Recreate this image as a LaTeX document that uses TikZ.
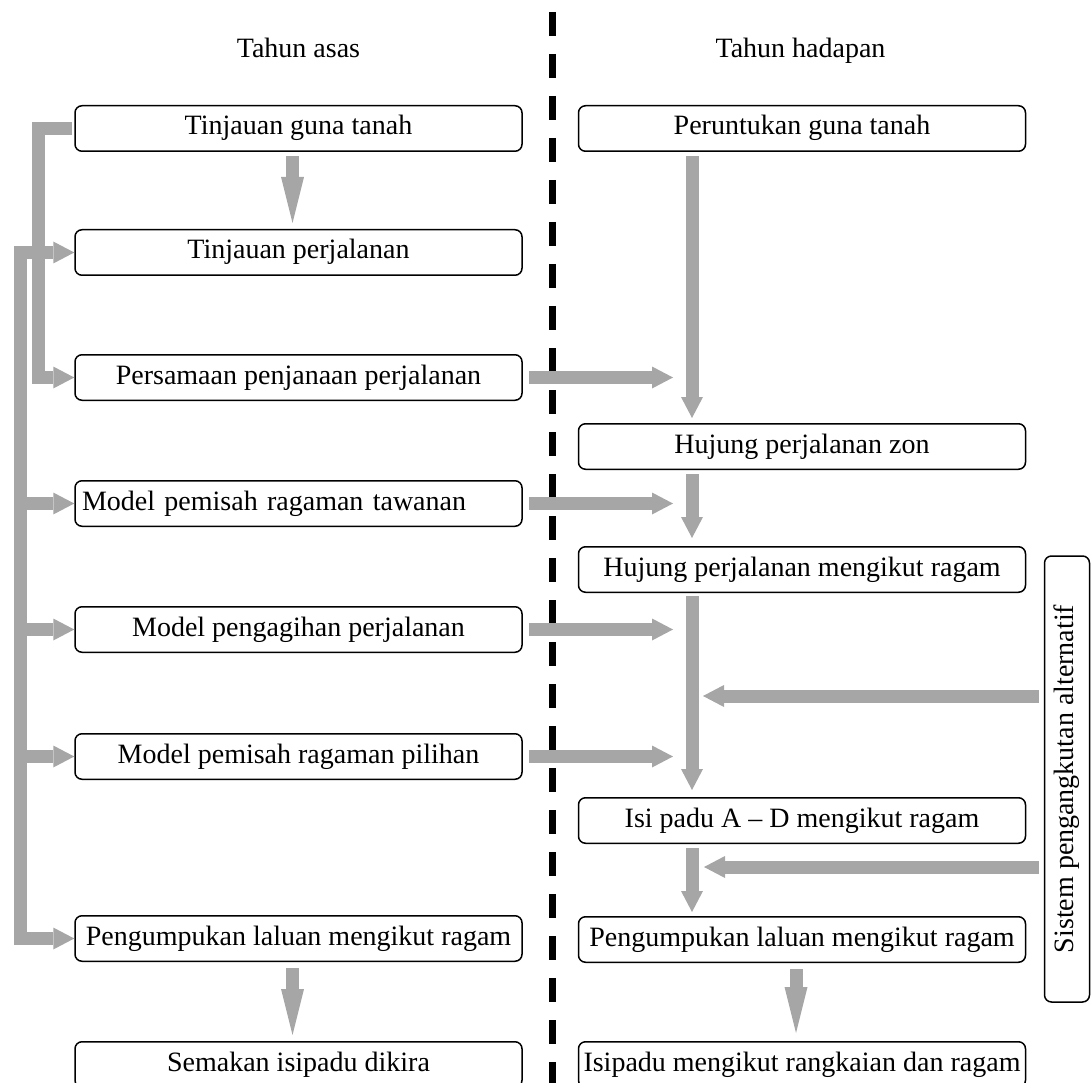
\documentclass[tikz,border=0pt]{standalone}
\usepackage{fontspec}
\setmainfont{Liberation Serif}
\usepackage{tikz}
\usetikzlibrary{arrows.meta,positioning,calc}
\usepackage{xcolor}
\definecolor{flowgray}{HTML}{A6A6A6}

\begin{document}
\begin{tikzpicture}[
  x=1pt, y=1pt,
  font=\fontsize{28}{34}\selectfont,
  node distance=78pt,
  Flow/.tip={Triangle[length=21pt,width=22pt,line width=0pt]},
  LongFlow/.tip={Triangle[length=46pt,width=23pt,line width=0pt]},
  stagebox/.style={
    draw=black,
    rounded corners=7pt,
    line width=1.5pt,
    minimum width=447pt,
    minimum height=45.5pt,
    inner xsep=3pt,
    inner ysep=0pt,
    text height=19pt,
    text depth=6pt
  },
  flow/.style={
    draw=flowgray,
    line width=13pt,
    line join=miter,
    -{Flow}
  },
  longflow/.style={
    flow,
    -{LongFlow}
  },
  header/.style={inner sep=0pt, anchor=base}
]

  \useasboundingbox (0,0) rectangle (1092,-1083);

  % Column headers
  \node[header] (hbase) at (298.5,-58) {Tahun asas};
  \node[header] (hfuture) at (800.5,-58) {Tahun hadapan};

  % Divider between base year and future year
  \draw[black, line width=7pt, dash pattern=on 24pt off 18pt] (552.5,-12) -- (552.5,-1083);

  % --- LEFT COLUMN: base year ---
  \node[stagebox] (l1) at (298.5,-128.5) {Tinjauan guna tanah};
  \node[stagebox, below=77pt of l1] (l2) {Tinjauan perjalanan};
  \node[stagebox, below=78pt of l2] (l3) {Persamaan penjanaan perjalanan};
  \node[stagebox, below=79pt of l3, text width=433pt] (l4) {Model pemisah ragaman tawanan};
  \node[stagebox, below=79pt of l4] (l5) {Model pengagihan perjalanan};
  \node[stagebox, below=80pt of l5] (l6) {Model pemisah ragaman pilihan};
  \node[stagebox, below=135pt of l6] (l7) {Pengumpukan laluan mengikut ragam};
  \node[stagebox, below=79pt of l7] (l8) {Semakan isipadu dikira};

  % --- RIGHT COLUMN: future year ---
  \node[stagebox, right=55pt of l1] (r1) {Peruntukan guna tanah};
  \node[stagebox, below=271pt of r1] (r2) {Hujung perjalanan zon};
  \node[stagebox, below=76pt of r2] (r3) {Hujung perjalanan mengikut ragam};
  \node[stagebox, below=204pt of r3] (r4) {Isi padu A \textendash{} D mengikut ragam};
  \node[stagebox, below=72pt of r4] (r5) {Pengumpukan laluan mengikut ragam};
  \node[stagebox, below=78pt of r5] (r6) {Isipadu mengikut rangkaian dan ragam};

  % Alternative transport system
  \node[stagebox, rotate=90, minimum width=446pt, minimum height=45pt] (alt) at (1067,-779) {Sistem pengangkutan alternatif};

  % Bus lines
  \coordinate (trunk) at (692,0);
  \coordinate (busA) at (38,0);
  \coordinate (busB) at (20,0);
  \coordinate (alt1) at ($(alt.north)+(0,83)$);
  \coordinate (alt2) at ($(alt.north)+(0,-88)$);

  % Left column arrows
  \draw[longflow, shorten <=4pt, shorten >=6pt] ([xshift=-6pt]l1.south) -- ([xshift=-6pt]l2.north);
  \draw[longflow, shorten <=6pt, shorten >=6pt] ([xshift=-6pt]l7.south) -- ([xshift=-6pt]l8.north);
  \draw[flow, shorten <=2pt] (l1.west) -| (busA |- l3.west) -- (l3.west);
  \draw[flow, {Flow}-{Flow}] (l2.west) -| (busB |- l7.west) -- (l7.west);
  \foreach \n in {l4,l5,l6}
    \draw[flow] (busB |- \n.west) -- (\n.west);

  % Base year to future year
  \foreach \n in {l3,l4,l5,l6}
    \draw[flow, shorten <=6pt, shorten >=19pt] (\n.east) -- (\n.east -| trunk);

  % Right column arrows
  \draw[flow, shorten <=4pt, shorten >=5pt] (r1.south -| trunk) -- (r2.north -| trunk);
  \draw[flow, shorten <=4pt, shorten >=8pt] (r2.south -| trunk) -- (r3.north -| trunk);
  \draw[flow, shorten <=3pt, shorten >=7pt] (r3.south -| trunk) -- (r4.north -| trunk);
  \draw[flow, shorten <=4pt, shorten >=4pt] (r4.south -| trunk) -- (r5.north -| trunk);
  \draw[longflow, shorten <=6pt, shorten >=8pt] ([xshift=-6pt]r5.south) -- ([xshift=-6pt]r6.north);

  % From the alternative system
  \draw[flow, shorten <=5pt, shorten >=11pt] (alt1) -- (alt1 -| trunk);
  \draw[flow, shorten <=5pt, shorten >=12pt] (alt2) -- (alt2 -| trunk);

\end{tikzpicture}
\end{document}
